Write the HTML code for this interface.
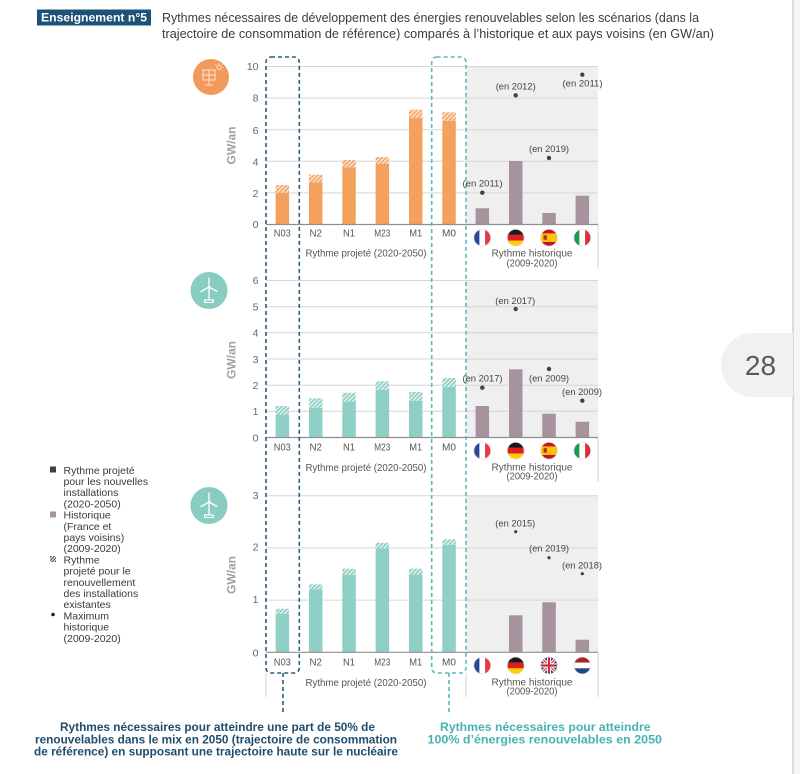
<!DOCTYPE html>
<html><head><meta charset="utf-8">
<style>
html,body{margin:0;padding:0;background:#fff;}
svg{display:block;}
text{font-family:"Liberation Sans",sans-serif;}
</style></head>
<body>
<svg width="800" height="774" viewBox="0 0 800 774" xmlns="http://www.w3.org/2000/svg">
<defs>
<pattern id="hO" patternUnits="userSpaceOnUse" width="3" height="3" patternTransform="rotate(45)"><rect width="3" height="3" fill="#fbe3cf"/><rect width="1.4" height="3" fill="#eea164"/></pattern>
<pattern id="hT" patternUnits="userSpaceOnUse" width="3" height="3" patternTransform="rotate(45)"><rect width="3" height="3" fill="#e0f2ee"/><rect width="1.4" height="3" fill="#86c9be"/></pattern>
<pattern id="hL" patternUnits="userSpaceOnUse" width="2.2" height="2.2" patternTransform="rotate(45)"><rect width="2.2" height="2.2" fill="#fff"/><rect width="1.1" height="2.2" fill="#444"/></pattern>
<clipPath id="fc"><circle cx="0" cy="0" r="8.5"/></clipPath>
<g id="fr"><g clip-path="url(#fc)"><rect x="-9" y="-9" width="6.2" height="18" fill="#26479a"/><rect x="-2.9" y="-9" width="5.8" height="18" fill="#fff"/><rect x="2.8" y="-9" width="6.2" height="18" fill="#e43a45"/></g><circle r="8.5" fill="none" stroke="#e6e6e6" stroke-width="0.8"/></g>
<g id="de"><g clip-path="url(#fc)"><rect x="-9" y="-9" width="18" height="6.2" fill="#1b1b1b"/><rect x="-9" y="-2.9" width="18" height="5.8" fill="#dd1f1f"/><rect x="-9" y="2.8" width="18" height="6.2" fill="#ffcc00"/></g><circle r="8.5" fill="none" stroke="#e6e6e6" stroke-width="0.8"/></g>
<g id="es"><g clip-path="url(#fc)"><rect x="-9" y="-9" width="18" height="18" fill="#c8102e"/><rect x="-9" y="-4.3" width="18" height="8.6" fill="#ffc400"/><rect x="-5.5" y="-2.5" width="3.4" height="4.5" fill="#a8322a"/></g><circle r="8.5" fill="none" stroke="#e6e6e6" stroke-width="0.8"/></g>
<g id="it"><g clip-path="url(#fc)"><rect x="-9" y="-9" width="6.2" height="18" fill="#1b9a4b"/><rect x="-2.9" y="-9" width="5.8" height="18" fill="#fff"/><rect x="2.8" y="-9" width="6.2" height="18" fill="#d8323a"/></g><circle r="8.5" fill="none" stroke="#e6e6e6" stroke-width="0.8"/></g>
<g id="uk"><g clip-path="url(#fc)"><rect x="-9" y="-9" width="18" height="18" fill="#24397a"/><path d="M-9,-9L9,9M9,-9L-9,9" stroke="#fff" stroke-width="3.2"/><path d="M-9,-9L9,9M9,-9L-9,9" stroke="#d22b3a" stroke-width="1.1"/><path d="M0,-9V9M-9,0H9" stroke="#fff" stroke-width="4.2"/><path d="M0,-9V9M-9,0H9" stroke="#d22b3a" stroke-width="2.2"/></g><circle r="8.5" fill="none" stroke="#e6e6e6" stroke-width="0.8"/></g>
<g id="nl"><g clip-path="url(#fc)"><rect x="-9" y="-9" width="18" height="6.2" fill="#b01e2c"/><rect x="-9" y="-2.9" width="18" height="5.8" fill="#fff"/><rect x="-9" y="2.8" width="18" height="6.2" fill="#21468b"/></g><circle r="8.5" fill="none" stroke="#e6e6e6" stroke-width="0.8"/></g>
<g id="wind"><path d="M0,-3V10M-3.5,10H3.5M0,-3L0,-12M0,-3L-8,1.5M0,-3L8,1.5" stroke="#fff" stroke-width="1.3" fill="none" stroke-linecap="round"/><rect x="-4.5" y="10" width="9" height="2.5" fill="none" stroke="#fff" stroke-width="1"/><circle cx="0" cy="-3" r="1.3" fill="#fff"/></g>
</defs>

<rect width="800" height="774" fill="#fff"/>

<!-- right page edge -->
<rect x="793" y="0" width="7" height="774" fill="#f7f5f1"/>
<line x1="793" y1="0" x2="793" y2="774" stroke="#d2d2d2" stroke-width="1.5"/>
<path d="M793,333 H753 A32,32 0 0 0 753,397 H793 Z" fill="#f1f1f1"/>
<text x="760.5" y="375" font-size="28" fill="#5a5a5a" text-anchor="middle">28</text>

<!-- header -->
<rect x="37" y="9.5" width="114" height="16" fill="#1c5278"/>
<text x="41" y="21.6" font-size="12" font-weight="bold" fill="#fff" textLength="106" lengthAdjust="spacingAndGlyphs">Enseignement n°5</text>
<text x="162" y="21.8" font-size="13" fill="#3c3c3c" textLength="537" lengthAdjust="spacingAndGlyphs">Rythmes nécessaires de développement des énergies renouvelables selon les scénarios (dans la</text>
<text x="162" y="37.8" font-size="13" fill="#3c3c3c" textLength="552" lengthAdjust="spacingAndGlyphs">trajectoire de consommation de référence) comparés à l’historique et aux pays voisins (en GW/an)</text>

<!-- gray backgrounds -->
<rect x="466" y="66.5" width="132" height="158" fill="#efefef"/>
<rect x="466" y="280.5" width="132" height="157" fill="#efefef"/>
<rect x="466" y="495.7" width="132" height="156.6" fill="#efefef"/>

<!-- gridlines -->
<g stroke="#d6d6d6" stroke-width="1">
<line x1="266" x2="598" y1="66.5" y2="66.5"/><line x1="266" x2="598" y1="98.1" y2="98.1"/><line x1="266" x2="598" y1="129.7" y2="129.7"/><line x1="266" x2="598" y1="161.3" y2="161.3"/><line x1="266" x2="598" y1="192.9" y2="192.9"/>
<line x1="266" x2="598" y1="280.5" y2="280.5"/><line x1="266" x2="598" y1="306.7" y2="306.7"/><line x1="266" x2="598" y1="332.8" y2="332.8"/><line x1="266" x2="598" y1="359" y2="359"/><line x1="266" x2="598" y1="385.2" y2="385.2"/><line x1="266" x2="598" y1="411.3" y2="411.3"/>
<line x1="266" x2="598" y1="495.7" y2="495.7"/><line x1="266" x2="598" y1="547.9" y2="547.9"/><line x1="266" x2="598" y1="600.1" y2="600.1"/>
</g>
<!-- light vertical separators -->
<g stroke="#d4d4d4" stroke-width="1">
<line x1="598" x2="598" y1="224.5" y2="268"/>
<line x1="598" x2="598" y1="437.5" y2="482"/>
<line x1="598" x2="598" y1="652.3" y2="697"/>
<line x1="266" x2="266" y1="673" y2="697"/>
<line x1="466" x2="466" y1="673" y2="697"/>
</g>

<!-- PANEL 1 bars (solar) -->
<g fill="#f4a15d">
<rect x="275.6" y="192.7" width="13.5" height="31.8"/>
<rect x="309" y="182.3" width="13.5" height="42.2"/>
<rect x="342.3" y="167.3" width="13.5" height="57.2"/>
<rect x="375.6" y="164" width="13.5" height="60.5"/>
<rect x="409" y="117.7" width="13.5" height="106.8"/>
<rect x="442.3" y="120.7" width="13.5" height="103.8"/>
</g>
<g fill="url(#hO)">
<rect x="275.6" y="185" width="13.5" height="7.7"/>
<rect x="309" y="174.7" width="13.5" height="7.6"/>
<rect x="342.3" y="160" width="13.5" height="7.3"/>
<rect x="375.6" y="157" width="13.5" height="7"/>
<rect x="409" y="109.7" width="13.5" height="8"/>
<rect x="442.3" y="112.3" width="13.5" height="8.4"/>
</g>
<g fill="#a6939e">
<rect x="475.6" y="208.3" width="13.5" height="16.2"/>
<rect x="509" y="161" width="13.5" height="63.5"/>
<rect x="542.3" y="213" width="13.5" height="11.5"/>
<rect x="575.6" y="195.7" width="13.5" height="28.8"/>
</g>

<!-- PANEL 2 bars (onshore wind) -->
<g fill="#8fcfc5">
<rect x="275.6" y="415" width="13.5" height="22.5"/>
<rect x="309" y="407.7" width="13.5" height="29.8"/>
<rect x="342.3" y="401.7" width="13.5" height="35.8"/>
<rect x="375.6" y="389.7" width="13.5" height="47.8"/>
<rect x="409" y="400.7" width="13.5" height="36.8"/>
<rect x="442.3" y="386.7" width="13.5" height="50.8"/>
</g>
<g fill="url(#hT)">
<rect x="275.6" y="406" width="13.5" height="9"/>
<rect x="309" y="398.3" width="13.5" height="9.4"/>
<rect x="342.3" y="392.7" width="13.5" height="9"/>
<rect x="375.6" y="381.3" width="13.5" height="8.4"/>
<rect x="409" y="392" width="13.5" height="8.7"/>
<rect x="442.3" y="378" width="13.5" height="8.7"/>
</g>
<g fill="#a6939e">
<rect x="475.6" y="406" width="13.5" height="31.5"/>
<rect x="509" y="369.3" width="13.5" height="68.2"/>
<rect x="542.3" y="413.7" width="13.5" height="23.8"/>
<rect x="575.6" y="421.7" width="13.5" height="15.8"/>
</g>

<!-- PANEL 3 bars (offshore wind) -->
<g fill="#8fcfc5">
<rect x="275.6" y="614" width="13.5" height="38.3"/>
<rect x="309" y="589.3" width="13.5" height="63"/>
<rect x="342.3" y="574.7" width="13.5" height="77.6"/>
<rect x="375.6" y="548.3" width="13.5" height="104"/>
<rect x="409" y="574.3" width="13.5" height="78"/>
<rect x="442.3" y="544.7" width="13.5" height="107.6"/>
</g>
<g fill="url(#hT)">
<rect x="275.6" y="608.7" width="13.5" height="5.3"/>
<rect x="309" y="584.3" width="13.5" height="5"/>
<rect x="342.3" y="568.7" width="13.5" height="6"/>
<rect x="375.6" y="542.7" width="13.5" height="5.6"/>
<rect x="409" y="568.7" width="13.5" height="5.6"/>
<rect x="442.3" y="539.3" width="13.5" height="5.4"/>
</g>
<g fill="#a6939e">
<rect x="509" y="615.3" width="13.5" height="37"/>
<rect x="542.3" y="602.3" width="13.5" height="50"/>
<rect x="575.6" y="639.7" width="13.5" height="12.6"/>
</g>

<!-- axis lines -->
<g stroke="#8f8f8f" stroke-width="1.2">
<line x1="266" x2="598" y1="224.5" y2="224.5"/>
<line x1="266" x2="598" y1="437.5" y2="437.5"/>
<line x1="266" x2="598" y1="652.3" y2="652.3"/>
</g>

<!-- dashed boxes -->
<rect x="266" y="57" width="33.3" height="616" rx="5" fill="none" stroke="#2c5e7c" stroke-width="1.6" stroke-dasharray="4 3"/>
<line x1="283" x2="283" y1="673" y2="713" stroke="#2c5e7c" stroke-width="1.6" stroke-dasharray="4 3"/>
<rect x="431.7" y="57" width="34.3" height="616" rx="5" fill="none" stroke="#5cb9bb" stroke-width="1.6" stroke-dasharray="4 3"/>
<line x1="449" x2="449" y1="673" y2="713" stroke="#5cb9bb" stroke-width="1.6" stroke-dasharray="4 3"/>

<!-- max dots -->
<g fill="#4a3d45">
<circle cx="482.3" cy="192.7" r="2.2"/><circle cx="515.7" cy="95.3" r="2.2"/><circle cx="549" cy="158" r="2.2"/><circle cx="582.3" cy="74.7" r="2.2"/>
<circle cx="482.3" cy="387.7" r="2.2"/><circle cx="515.7" cy="309" r="2.2"/><circle cx="549" cy="369" r="2.2"/><circle cx="582.3" cy="400.7" r="2.2"/>
<circle cx="515.7" cy="531.7" r="1.6"/><circle cx="549" cy="557.7" r="1.6"/><circle cx="582.3" cy="573.7" r="1.6"/>
</g>
<g font-size="9.5" fill="#444" text-anchor="middle">
<text x="482.5" y="186.4" textLength="40" lengthAdjust="spacingAndGlyphs">(en 2011)</text>
<text x="515.7" y="89.4" textLength="40" lengthAdjust="spacingAndGlyphs">(en 2012)</text>
<text x="549" y="152.1" textLength="40" lengthAdjust="spacingAndGlyphs">(en 2019)</text>
<text x="582.5" y="86.7" textLength="40" lengthAdjust="spacingAndGlyphs">(en 2011)</text>
<text x="482.5" y="381.7" textLength="40" lengthAdjust="spacingAndGlyphs">(en 2017)</text>
<text x="515.3" y="304.1" textLength="40" lengthAdjust="spacingAndGlyphs">(en 2017)</text>
<text x="549" y="381.7" textLength="40" lengthAdjust="spacingAndGlyphs">(en 2009)</text>
<text x="582" y="395.1" textLength="40" lengthAdjust="spacingAndGlyphs">(en 2009)</text>
<text x="515.3" y="526.7" textLength="40" lengthAdjust="spacingAndGlyphs">(en 2015)</text>
<text x="549" y="551.7" textLength="40" lengthAdjust="spacingAndGlyphs">(en 2019)</text>
<text x="582" y="568.4" textLength="40" lengthAdjust="spacingAndGlyphs">(en 2018)</text>
</g>

<!-- y-axis labels -->
<g font-size="10.5" fill="#666" text-anchor="end">
<text x="258.5" y="69.8">10</text><text x="258.5" y="101.5">8</text><text x="258.5" y="133.8">6</text><text x="258.5" y="165.5">4</text><text x="258.5" y="196.8">2</text><text x="258.5" y="227.8">0</text>
<text x="258.5" y="283.8">6</text><text x="258.5" y="310.5">5</text><text x="258.5" y="336.5">4</text><text x="258.5" y="363.1">3</text><text x="258.5" y="388.8">2</text><text x="258.5" y="414.8">1</text><text x="258.5" y="441.5">0</text>
<text x="258.5" y="498.8">3</text><text x="258.5" y="550.5">2</text><text x="258.5" y="603.1">1</text><text x="258.5" y="656.5">0</text>
</g>
<g font-size="11.5" font-weight="bold" fill="#a0a0a0" text-anchor="middle">
<text transform="translate(235.6,145.5) rotate(-90)" textLength="38" lengthAdjust="spacingAndGlyphs">GW/an</text>
<text transform="translate(235.6,360) rotate(-90)" textLength="38" lengthAdjust="spacingAndGlyphs">GW/an</text>
<text transform="translate(235.6,575) rotate(-90)" textLength="38" lengthAdjust="spacingAndGlyphs">GW/an</text>
</g>

<!-- category labels -->
<g font-size="10.5" fill="#555" text-anchor="middle">
<text x="282.3" y="236.3" textLength="17" lengthAdjust="spacingAndGlyphs">N03</text><text x="315.7" y="236.3" textLength="12.5" lengthAdjust="spacingAndGlyphs">N2</text><text x="349" y="236.3" textLength="12" lengthAdjust="spacingAndGlyphs">N1</text><text x="382.3" y="236.3" textLength="16" lengthAdjust="spacingAndGlyphs">M23</text><text x="415.7" y="236.3" textLength="13" lengthAdjust="spacingAndGlyphs">M1</text><text x="449" y="236.3" textLength="14" lengthAdjust="spacingAndGlyphs">M0</text>
<text x="282.3" y="450.3" textLength="17" lengthAdjust="spacingAndGlyphs">N03</text><text x="315.7" y="450.3" textLength="12.5" lengthAdjust="spacingAndGlyphs">N2</text><text x="349" y="450.3" textLength="12" lengthAdjust="spacingAndGlyphs">N1</text><text x="382.3" y="450.3" textLength="16" lengthAdjust="spacingAndGlyphs">M23</text><text x="415.7" y="450.3" textLength="13" lengthAdjust="spacingAndGlyphs">M1</text><text x="449" y="450.3" textLength="14" lengthAdjust="spacingAndGlyphs">M0</text>
<text x="282.3" y="665.3" textLength="17" lengthAdjust="spacingAndGlyphs">N03</text><text x="315.7" y="665.3" textLength="12.5" lengthAdjust="spacingAndGlyphs">N2</text><text x="349" y="665.3" textLength="12" lengthAdjust="spacingAndGlyphs">N1</text><text x="382.3" y="665.3" textLength="16" lengthAdjust="spacingAndGlyphs">M23</text><text x="415.7" y="665.3" textLength="13" lengthAdjust="spacingAndGlyphs">M1</text><text x="449" y="665.3" textLength="14" lengthAdjust="spacingAndGlyphs">M0</text>
</g>
<g font-size="10.5" fill="#555" text-anchor="middle">
<text x="366" y="256.5" textLength="121" lengthAdjust="spacingAndGlyphs">Rythme projeté (2020-2050)</text>
<text x="532" y="256.5" textLength="81" lengthAdjust="spacingAndGlyphs">Rythme historique</text>
<text x="532" y="266.3" textLength="51" lengthAdjust="spacingAndGlyphs">(2009-2020)</text>
<text x="366" y="471" textLength="121" lengthAdjust="spacingAndGlyphs">Rythme projeté (2020-2050)</text>
<text x="532" y="470.6" textLength="81" lengthAdjust="spacingAndGlyphs">Rythme historique</text>
<text x="532" y="479.6" textLength="51" lengthAdjust="spacingAndGlyphs">(2009-2020)</text>
<text x="366" y="686" textLength="121" lengthAdjust="spacingAndGlyphs">Rythme projeté (2020-2050)</text>
<text x="532" y="685.6" textLength="81" lengthAdjust="spacingAndGlyphs">Rythme historique</text>
<text x="532" y="694.3" textLength="51" lengthAdjust="spacingAndGlyphs">(2009-2020)</text>
</g>

<!-- flags -->
<use href="#fr" transform="translate(482.3,237.7)"/><use href="#de" transform="translate(515.7,237.7)"/><use href="#es" transform="translate(549,237.7)"/><use href="#it" transform="translate(582.3,237.7)"/>
<use href="#fr" transform="translate(482.3,450.7)"/><use href="#de" transform="translate(515.7,450.7)"/><use href="#es" transform="translate(549,450.7)"/><use href="#it" transform="translate(582.3,450.7)"/>
<use href="#fr" transform="translate(482.3,665.5)"/><use href="#de" transform="translate(515.7,665.5)"/><use href="#uk" transform="translate(549,665.5)"/><use href="#nl" transform="translate(582.3,665.5)"/>

<!-- icons -->
<circle cx="211" cy="77" r="18" fill="#f29a5c"/>
<g stroke="#fde7d4" stroke-width="1" fill="none">
<rect x="203" y="70" width="12" height="10"/>
<line x1="209" y1="70" x2="209" y2="80"/><line x1="203" y1="75" x2="215" y2="75"/>
<line x1="209" y1="80" x2="209" y2="85"/><line x1="205" y1="85" x2="213" y2="85"/>
<circle cx="219" cy="67.5" r="2"/>
<path d="M219,63.5V64.5M222.5,67.5H223.5M221.8,64.7L222.5,64M216.2,64.7L215.5,64M221.8,70.3L222.5,71"/>
</g>
<circle cx="209" cy="290.5" r="18.5" fill="#88ccc2"/>
<use href="#wind" transform="translate(209,290)"/>
<circle cx="209" cy="505.5" r="18.5" fill="#88ccc2"/>
<use href="#wind" transform="translate(209,505)"/>

<!-- legend -->
<rect x="50" y="466.5" width="6" height="6" fill="#4a3d45"/>
<rect x="50" y="511.5" width="6" height="6" fill="#a6939e"/>
<rect x="50" y="556" width="6" height="6" fill="url(#hL)"/>
<circle cx="53" cy="614.5" r="1.8" fill="#222"/>
<g font-size="10.5" fill="#3a3a3a">
<text x="63.5" y="473.8">Rythme projeté</text>
<text x="63.5" y="485">pour les nouvelles</text>
<text x="63.5" y="496.2">installations</text>
<text x="63.5" y="507.4">(2020-2050)</text>
<text x="63.5" y="518.6">Historique</text>
<text x="63.5" y="529.8">(France et</text>
<text x="63.5" y="541">pays voisins)</text>
<text x="63.5" y="552.2">(2009-2020)</text>
<text x="63.5" y="563.4">Rythme</text>
<text x="63.5" y="574.6">projeté pour le</text>
<text x="63.5" y="585.8">renouvellement</text>
<text x="63.5" y="597">des installations</text>
<text x="63.5" y="608.2">existantes</text>
<text x="63.5" y="619.4">Maximum</text>
<text x="63.5" y="630.6">historique</text>
<text x="63.5" y="641.8">(2009-2020)</text>
</g>

<!-- bottom texts -->
<g font-size="12" font-weight="bold" fill="#1f4d6d">
<text x="60" y="731" textLength="315" lengthAdjust="spacingAndGlyphs">Rythmes nécessaires pour atteindre une part de 50% de</text>
<text x="35" y="743.6" textLength="362" lengthAdjust="spacingAndGlyphs">renouvelables dans le mix en 2050 (trajectoire de consommation</text>
<text x="34" y="755.6" textLength="364" lengthAdjust="spacingAndGlyphs">de référence) en supposant une trajectoire haute sur le nucléaire</text>
</g>
<g font-size="12" font-weight="bold" fill="#46b3b3">
<text x="440" y="731" textLength="210.5" lengthAdjust="spacingAndGlyphs">Rythmes nécessaires pour atteindre</text>
<text x="427.5" y="743.6" textLength="234.5" lengthAdjust="spacingAndGlyphs">100% d’énergies renouvelables en 2050</text>
</g>
</svg>
</body></html>
